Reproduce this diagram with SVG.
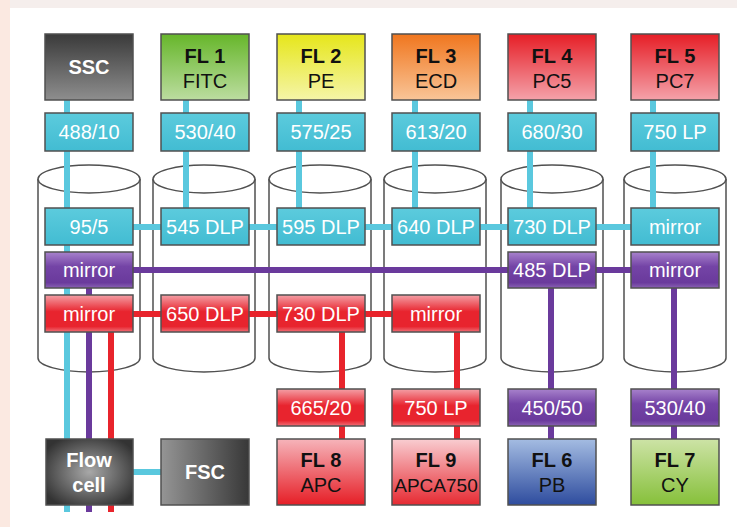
<svg xmlns="http://www.w3.org/2000/svg" width="737" height="527" viewBox="0 0 737 527">
<defs>
<linearGradient id="gSSC" x1="0" y1="0" x2="0" y2="1"><stop offset="0" stop-color="#3a3a3a"/><stop offset="1" stop-color="#8e8e8e"/></linearGradient>
<linearGradient id="gFL1" x1="0" y1="0" x2="0" y2="1"><stop offset="0" stop-color="#66b62a"/><stop offset="1" stop-color="#bcdda0"/></linearGradient>
<linearGradient id="gFL2" x1="0" y1="0" x2="0" y2="1"><stop offset="0" stop-color="#e6e61a"/><stop offset="1" stop-color="#f5f5a8"/></linearGradient>
<linearGradient id="gFL3" x1="0" y1="0" x2="0" y2="1"><stop offset="0" stop-color="#f0761e"/><stop offset="1" stop-color="#f9c598"/></linearGradient>
<linearGradient id="gFL4" x1="0" y1="0" x2="0" y2="1"><stop offset="0" stop-color="#e61e26"/><stop offset="1" stop-color="#f4a2aa"/></linearGradient>
<linearGradient id="gFL8" x1="0" y1="0" x2="0" y2="1"><stop offset="0" stop-color="#f6b4ba"/><stop offset="1" stop-color="#e61e26"/></linearGradient>
<linearGradient id="gFL9" x1="0" y1="0" x2="0" y2="1"><stop offset="0" stop-color="#f9cdd1"/><stop offset="1" stop-color="#e62a32"/></linearGradient>
<linearGradient id="gFL6" x1="0" y1="0" x2="0" y2="1"><stop offset="0" stop-color="#a4bce2"/><stop offset="1" stop-color="#2e4c9e"/></linearGradient>
<linearGradient id="gFL7" x1="0" y1="0" x2="0" y2="1"><stop offset="0" stop-color="#cde3a6"/><stop offset="1" stop-color="#86c03a"/></linearGradient>
<radialGradient id="gFlow" cx="0.5" cy="0.5" r="0.6"><stop offset="0" stop-color="#a8a8a8"/><stop offset="1" stop-color="#333333"/></radialGradient>
<linearGradient id="gFSC" x1="0" y1="0" x2="1" y2="0"><stop offset="0" stop-color="#959595"/><stop offset="1" stop-color="#383838"/></linearGradient>
<linearGradient id="gCy" x1="0" y1="0" x2="0" y2="1"><stop offset="0" stop-color="#5ccbdd"/><stop offset="1" stop-color="#42bcd2"/></linearGradient>
<linearGradient id="gPu" x1="0" y1="0" x2="0" y2="1"><stop offset="0" stop-color="#a882cc"/><stop offset="0.4" stop-color="#7444a6"/><stop offset="0.85" stop-color="#6a3a9c"/><stop offset="1" stop-color="#8a62b4"/></linearGradient>
<linearGradient id="gRe" x1="0" y1="0" x2="0" y2="1"><stop offset="0" stop-color="#f4a0a6"/><stop offset="0.45" stop-color="#e8242e"/><stop offset="0.85" stop-color="#e8242e"/><stop offset="1" stop-color="#f07078"/></linearGradient>
</defs>
<style>
.box{stroke:#505050;stroke-width:1.5}
.cyl{fill:#ffffff;stroke:#505050;stroke-width:1.5}
.cyl2{fill:none;stroke:#505050;stroke-width:1.5}
.cy{stroke:#5ac8de;stroke-width:6;fill:none}
.pu{stroke:#6a3a9c;stroke-width:6;fill:none}
.re{stroke:#e8242c;stroke-width:6;fill:none}
text{font-family:"Liberation Sans",Arial,sans-serif;text-anchor:middle}
.t{font-size:20px;fill:#ffffff}
.b{font-size:20px;font-weight:bold;fill:#111111}
.n{font-size:20px;fill:#111111}
.w{font-size:20px;font-weight:bold;fill:#ffffff}
</style>
<rect x="0" y="0" width="737" height="527" fill="#ffffff"/>
<rect x="0" y="0" width="737" height="8" fill="#f5eeec"/>
<rect x="0" y="0" width="10" height="527" fill="#fbe9e1"/>

<g id="cylinders">
<g id="cyl1"><path class="cyl" d="M38,179 V358 A51,14 0 0 0 140,358 V179"/><ellipse class="cyl" cx="89" cy="179" rx="51" ry="14"/></g>
<g id="cyl2"><path class="cyl" d="M153,179 V358 A51,14 0 0 0 255,358 V179"/><ellipse class="cyl" cx="204" cy="179" rx="51" ry="14"/></g>
<g id="cyl3"><path class="cyl" d="M269,179 V358 A51,14 0 0 0 371,358 V179"/><ellipse class="cyl" cx="320" cy="179" rx="51" ry="14"/></g>
<g id="cyl4"><path class="cyl" d="M384,179 V358 A51,14 0 0 0 486,358 V179"/><ellipse class="cyl" cx="435" cy="179" rx="51" ry="14"/></g>
<g id="cyl5"><path class="cyl" d="M501,179 V358 A51,14 0 0 0 603,358 V179"/><ellipse class="cyl" cx="552" cy="179" rx="51" ry="14"/></g>
<g id="cyl6"><path class="cyl" d="M624,179 V358 A51,14 0 0 0 726,358 V179"/><ellipse class="cyl" cx="675" cy="179" rx="51" ry="14"/></g>
</g>

<g id="connectors">
<line class="cy" x1="67" y1="100" x2="67" y2="512"/>
<line class="cy" x1="186" y1="100" x2="186" y2="208"/>
<line class="cy" x1="299" y1="100" x2="299" y2="208"/>
<line class="cy" x1="415" y1="100" x2="415" y2="208"/>
<line class="cy" x1="530" y1="100" x2="530" y2="208"/>
<line class="cy" x1="653" y1="100" x2="653" y2="208"/>
<line class="cy" x1="133" y1="227" x2="631" y2="227"/>
<line class="cy" x1="133" y1="472" x2="161" y2="472"/>
<line class="pu" x1="133" y1="270" x2="631" y2="270"/>
<line class="pu" x1="89" y1="288" x2="89" y2="512"/>
<line class="pu" x1="551" y1="288" x2="551" y2="439"/>
<line class="pu" x1="674" y1="288" x2="674" y2="439"/>
<line class="re" x1="133" y1="314" x2="392" y2="314"/>
<line class="re" x1="111" y1="332" x2="111" y2="512"/>
<line class="re" x1="342" y1="332" x2="342" y2="439"/>
<line class="re" x1="457" y1="332" x2="457" y2="439"/>
</g>

<g id="SSC"><rect class="box" x="45" y="34" width="88" height="66" fill="url(#gSSC)"/><text class="w" x="89" y="74">SSC</text></g>
<g id="FL1"><rect class="box" x="161" y="34" width="88" height="66" fill="url(#gFL1)"/><text class="b" x="205" y="63">FL 1</text><text class="n" x="205" y="88">FITC</text></g>
<g id="FL2"><rect class="box" x="277" y="34" width="88" height="66" fill="url(#gFL2)"/><text class="b" x="321" y="63">FL 2</text><text class="n" x="321" y="88">PE</text></g>
<g id="FL3"><rect class="box" x="392" y="34" width="88" height="66" fill="url(#gFL3)"/><text class="b" x="436" y="63">FL 3</text><text class="n" x="436" y="88">ECD</text></g>
<g id="FL4"><rect class="box" x="508" y="34" width="88" height="66" fill="url(#gFL4)"/><text class="b" x="552" y="63">FL 4</text><text class="n" x="552" y="88">PC5</text></g>
<g id="FL5"><rect class="box" x="631" y="34" width="88" height="66" fill="url(#gFL4)"/><text class="b" x="675" y="63">FL 5</text><text class="n" x="675" y="88">PC7</text></g>

<g id="f48810"><rect class="box" x="45" y="113" width="88" height="38" fill="url(#gCy)"/><text class="t" x="89" y="139">488/10</text></g>
<g id="f53040a"><rect class="box" x="161" y="113" width="88" height="38" fill="url(#gCy)"/><text class="t" x="205" y="139">530/40</text></g>
<g id="f57525"><rect class="box" x="277" y="113" width="88" height="38" fill="url(#gCy)"/><text class="t" x="321" y="139">575/25</text></g>
<g id="f61320"><rect class="box" x="392" y="113" width="88" height="38" fill="url(#gCy)"/><text class="t" x="436" y="139">613/20</text></g>
<g id="f68030"><rect class="box" x="508" y="113" width="88" height="38" fill="url(#gCy)"/><text class="t" x="552" y="139">680/30</text></g>
<g id="f750LPa"><rect class="box" x="631" y="113" width="88" height="38" fill="url(#gCy)"/><text class="t" x="675" y="139">750 LP</text></g>

<g id="d955"><rect class="box" x="45" y="208" width="88" height="37" fill="url(#gCy)"/><text class="t" x="89" y="234">95/5</text></g>
<g id="d545"><rect class="box" x="161" y="208" width="88" height="37" fill="url(#gCy)"/><text class="t" x="205" y="234">545 DLP</text></g>
<g id="d595"><rect class="box" x="277" y="208" width="88" height="37" fill="url(#gCy)"/><text class="t" x="321" y="234">595 DLP</text></g>
<g id="d640"><rect class="box" x="392" y="208" width="88" height="37" fill="url(#gCy)"/><text class="t" x="436" y="234">640 DLP</text></g>
<g id="d730c"><rect class="box" x="508" y="208" width="88" height="37" fill="url(#gCy)"/><text class="t" x="552" y="234">730 DLP</text></g>
<g id="mirrorC6"><rect class="box" x="631" y="208" width="88" height="37" fill="url(#gCy)"/><text class="t" x="675" y="234">mirror</text></g>

<g id="mirrorP1"><rect class="box" x="45" y="252" width="88" height="36" fill="url(#gPu)"/><text class="t" x="89" y="277">mirror</text></g>
<g id="d485"><rect class="box" x="508" y="252" width="88" height="36" fill="url(#gPu)"/><text class="t" x="552" y="277">485 DLP</text></g>
<g id="mirrorP6"><rect class="box" x="631" y="252" width="88" height="36" fill="url(#gPu)"/><text class="t" x="675" y="277">mirror</text></g>

<g id="mirrorR1"><rect class="box" x="45" y="295" width="88" height="37" fill="url(#gRe)"/><text class="t" x="89" y="321">mirror</text></g>
<g id="d650"><rect class="box" x="161" y="295" width="88" height="37" fill="url(#gRe)"/><text class="t" x="205" y="321">650 DLP</text></g>
<g id="d730r"><rect class="box" x="277" y="295" width="88" height="37" fill="url(#gRe)"/><text class="t" x="321" y="321">730 DLP</text></g>
<g id="mirrorR4"><rect class="box" x="392" y="295" width="88" height="37" fill="url(#gRe)"/><text class="t" x="436" y="321">mirror</text></g>

<g id="f66520"><rect class="box" x="277" y="389" width="88" height="37" fill="url(#gRe)"/><text class="t" x="321" y="415">665/20</text></g>
<g id="f750LPb"><rect class="box" x="392" y="389" width="88" height="37" fill="url(#gRe)"/><text class="t" x="436" y="415">750 LP</text></g>
<g id="f45050"><rect class="box" x="508" y="389" width="88" height="37" fill="url(#gPu)"/><text class="t" x="552" y="415">450/50</text></g>
<g id="f53040b"><rect class="box" x="631" y="389" width="88" height="37" fill="url(#gPu)"/><text class="t" x="675" y="415">530/40</text></g>

<g id="flowcell"><rect class="box" x="46" y="439" width="87" height="66" fill="url(#gFlow)"/><text class="w" x="89" y="467">Flow</text><text class="w" x="89" y="492">cell</text></g>
<g id="FSC"><rect class="box" x="161" y="439" width="88" height="66" fill="url(#gFSC)"/><text class="w" x="205" y="479">FSC</text></g>
<g id="FL8"><rect class="box" x="277" y="439" width="88" height="66" fill="url(#gFL8)"/><text class="b" x="321" y="467">FL 8</text><text class="n" x="321" y="492">APC</text></g>
<g id="FL9"><rect class="box" x="392" y="439" width="88" height="66" fill="url(#gFL9)"/><text class="b" x="436" y="467">FL 9</text><text class="n" x="436" y="492" style="font-size:19px">APCA750</text></g>
<g id="FL6"><rect class="box" x="508" y="439" width="88" height="66" fill="url(#gFL6)"/><text class="b" x="552" y="467">FL 6</text><text class="n" x="552" y="492">PB</text></g>
<g id="FL7"><rect class="box" x="631" y="439" width="88" height="66" fill="url(#gFL7)"/><text class="b" x="675" y="467">FL 7</text><text class="n" x="675" y="492">CY</text></g>
</svg>
